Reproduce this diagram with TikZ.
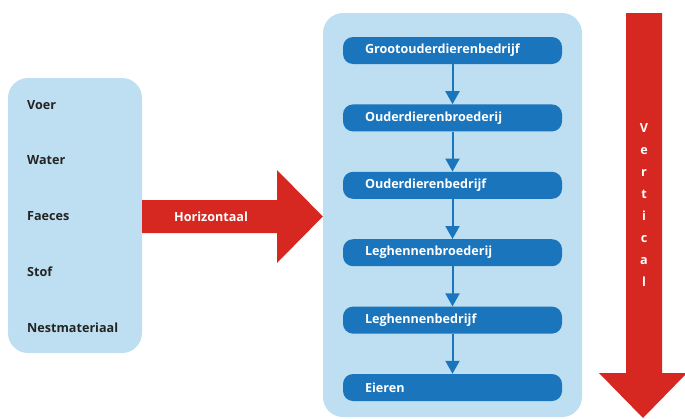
\documentclass[tikz,border=0pt]{standalone}
\usepackage{fontspec}
\setmainfont{Open Sans}
\usetikzlibrary{positioning,arrows.meta}

\begin{document}
\begin{tikzpicture}[x=1pt, y=-1pt, every node/.style={font=\bfseries\fontsize{12.6}{14}\selectfont}]
		% Define colors
		\definecolor{panelbg}{RGB}{190, 223, 241}
		\definecolor{stepblue}{RGB}{27, 117, 188}
		\definecolor{flowred}{RGB}{214, 40, 32}
		\definecolor{labelgray}{RGB}{35, 35, 35}

		% Styles
		\tikzstyle{panel} = [fill=panelbg, draw=none, rounded corners=20pt, inner sep=0pt]
		\tikzstyle{item} = [text=labelgray, anchor=west, inner sep=0pt]
		\tikzstyle{stage_box} = [fill=stepblue, draw=none, text=white, rounded corners=10pt, minimum width=219pt, minimum height=27pt, text width=175pt, align=left, inner xsep=22pt, inner ysep=0pt]
		\tikzstyle{stage_link} = [draw=stepblue, line width=2pt, -{Triangle[width=14pt, length=13pt]}]
		\tikzstyle{big_arrow} = [fill=flowred, draw=none]

		\useasboundingbox (0,0) rectangle (685,418);

		% Inputs panel (left)
		\node[panel, minimum width=134pt, minimum height=275pt] (inputs) at (75, 215.5) {};
		\node[item] (voer) at (27, 105) {Voer};
		\node[item] (water) at (27, 160) {Water};
		\node[item] (faeces) at (27, 216) {Faeces};
		\node[item] (stof) at (27, 272) {Stof};
		\node[item] (nest) at (27, 328) {Nestmateriaal};

		% Chain panel (right)
		\node[panel, minimum width=259pt, minimum height=404pt] (chain) at (452.5, 215) {};

		% Stages of the chain
		\node[stage_box] (gp) at (452.5, 50.5) {Grootouderdierenbedrijf};
		\node[stage_box, below=40pt of gp] (pb) {Ouderdierenbroederij};
		\node[stage_box, below=40pt of pb] (pf) {Ouderdierenbedrijf};
		\node[stage_box, below=40pt of pf] (lb) {Leghennenbroederij};
		\node[stage_box, below=40pt of lb] (lf) {Leghennenbedrijf};
		\node[stage_box, below=40pt of lf] (eggs) {Eieren};

		% Links between stages
		\draw[stage_link] (gp) -- (pb);
		\draw[stage_link] (pb) -- (pf);
		\draw[stage_link] (pf) -- (lb);
		\draw[stage_link] (lb) -- (lf);
		\draw[stage_link] (lf) -- (eggs);

		% Horizontal arrow from inputs to chain
		\fill[big_arrow] (inputs.east |- 0,200) -- (277,200) -- (277,170) -- (chain.west |- 0,216.5)
			-- (277,263) -- (277,233) -- (inputs.east |- 0,233) -- cycle;
		\node[text=white] (horiz) at (211, 216.5) {Horizontaal};

		% Vertical arrow
		\fill[big_arrow] (626,13) -- (662,13) -- (662,373) -- (685,373) -- (685,375) -- (643,418) -- (599,373) -- (626,373) -- cycle;
		\node[text=white, align=center, font=\bfseries\fontsize{12.6}{22}\selectfont] (vert) at (644, 205) {V\\e\\r\\t\\i\\c\\a\\l};

	\end{tikzpicture}
\end{document}
